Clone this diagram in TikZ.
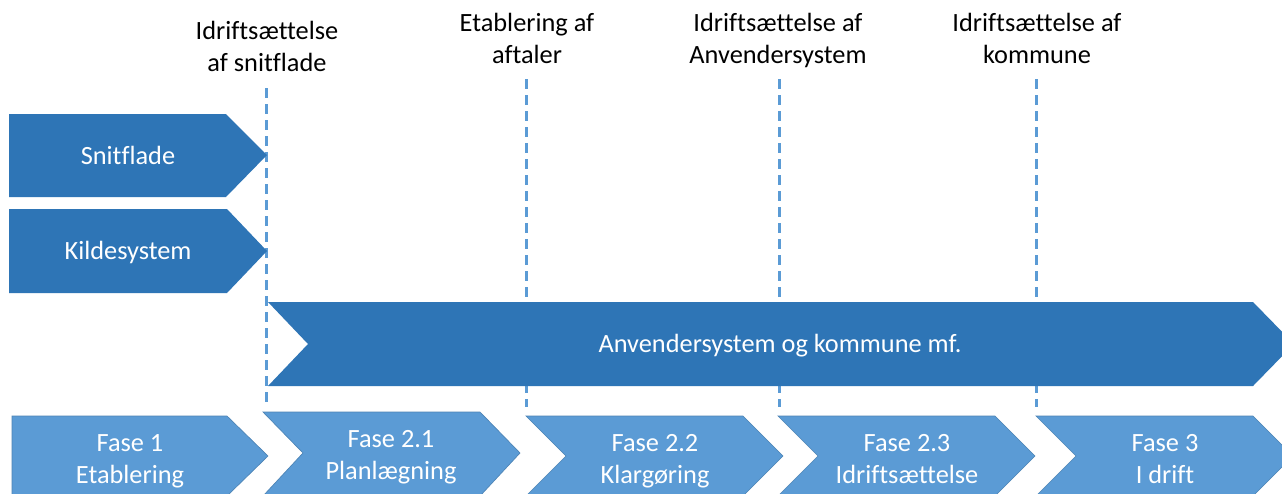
\documentclass[tikz,border=0pt]{standalone}
\usepackage{fontspec}
\setmainfont{Carlito}[Ligatures=NoCommon]
\definecolor{darkblue}{HTML}{2E75B6}
\definecolor{lightblue}{HTML}{5B9BD5}
\begin{document}
\begin{tikzpicture}[x=0.75pt,y=-0.75pt,
  darkbox/.style={fill=darkblue},
  phasebox/.style={fill=lightblue,draw=lightblue!85!black,line width=0.5pt},
  milestone/.style={lightblue,line width=2.25pt,dash pattern=on 7.5pt off 4.5pt},
  lbl/.style={align=center,anchor=base,inner sep=0pt,font=\fontsize{19.75pt}{23.5pt}\selectfont},
  intext/.style={lbl,text=white}]
\useasboundingbox (0,0) rectangle (1282,493);
\fill[white] (0,0) rectangle (1282,493);
\clip (0,0) rectangle (1282,493);

% milestones
\node[lbl] (ms1) at (267,71) {Idriftsættelse\\af snitflade};
\node[lbl] (ms2) at (527,63) {Etablering af\\aftaler};
\node[lbl] (ms3) at (778,63) {Idriftsættelse af\\Anvendersystem};
\node[lbl] (ms4) at (1037,63) {Idriftsættelse af\\kommune};
\coordinate (ms1top) at (266,88);
\coordinate (ms1bot) at (266,407);
\coordinate (ms2top) at (526,79);
\coordinate (ms2bot) at (526,407);
\coordinate (ms3top) at (779,79);
\coordinate (ms3bot) at (779,407);
\coordinate (ms4top) at (1036,79);
\coordinate (ms4bot) at (1036,407);
\draw[milestone] (ms1top) -- (ms1bot);
\draw[milestone] (ms2top) -- (ms2bot);
\draw[milestone] (ms3top) -- (ms3bot);
\draw[milestone] (ms4top) -- (ms4bot);

% systems
\fill[darkbox] (9,114) -- (226,114) -- (267,155) -- (226,197) -- (9,197) -- cycle;
\node[intext] (snit) at (128,164) {Snitflade};
\fill[darkbox] (9,209) -- (227,209) -- (267,251) -- (227,293) -- (9,293) -- cycle;
\node[intext] (kilde) at (128,259) {Kildesystem};
\fill[darkbox] (268,302) -- (1253,302) -- (1294,344) -- (1253,386) -- (268,386) -- (308,344) -- cycle;
\node[intext] (anv) at (780,352) {Anvendersystem og kommune mf.};

% phases
\filldraw[phasebox] (12,416) -- (227,416) -- (268,456) -- (227,496) -- (12,496) -- cycle;
\node[intext] (f1) at (130,483) {Fase 1\\Etablering};
\filldraw[phasebox] (263,412) -- (480,412) -- (520,453) -- (480,496) -- (263,496) -- (303,453) -- cycle;
\node[intext] (f21) at (391,479) {Fase 2.1\\Planlægning};
\filldraw[phasebox] (526,416) -- (743,416) -- (783,456) -- (743,496) -- (526,496) -- (566,456) -- cycle;
\node[intext] (f22) at (655,483) {Fase 2.2\\Klargøring};
\filldraw[phasebox] (778,416) -- (995,416) -- (1035,456) -- (995,496) -- (778,496) -- (818,456) -- cycle;
\node[intext] (f23) at (907,483) {Fase 2.3\\Idriftsættelse};
\filldraw[phasebox] (1036,416) -- (1253,416) -- (1293,456) -- (1253,496) -- (1036,496) -- (1076,456) -- cycle;
\node[intext] (f3) at (1165,483) {Fase 3\\I drift};
\end{tikzpicture}
\end{document}
